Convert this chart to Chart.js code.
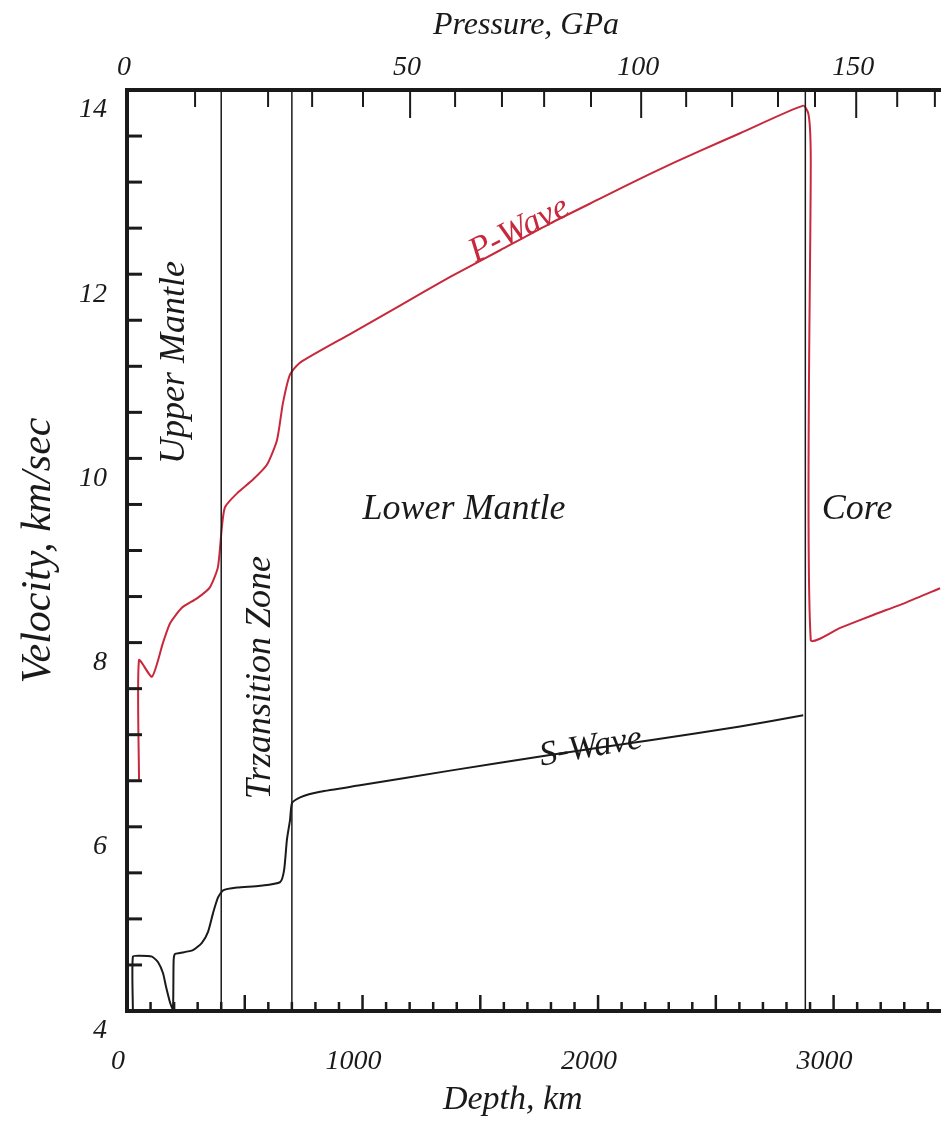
<!DOCTYPE html>
<html>
<head>
<meta charset="utf-8">
<title>Seismic velocity vs depth</title>
<script src="https://cdn.jsdelivr.net/npm/chart.js@4.4.1/dist/chart.umd.min.js"></script>
<style>
  html, body { margin: 0; padding: 0; background: #fff; overflow: hidden; }
  canvas { display: block; }
</style>
</head>
<body>
<canvas id="velocityChart" width="941" height="1128"></canvas>
<script>
/* ---- data ---- */

// P-wave velocity (km/s) against depth (km)
const pDepth = [51, 51, 106, 153, 183, 234, 297, 352, 386, 403, 416, 467, 535, 594, 637, 662, 692, 735,
                947, 1159, 1372, 1584, 1796, 2008, 2221, 2433, 2603, 2871, 2892, 2900, 2903, 2903,
                3028, 3168, 3312, 3452];
const pVel   = [6.51, 7.81, 7.63, 8.00, 8.21, 8.38, 8.48, 8.60, 8.82, 9.26, 9.47, 9.62, 9.77, 9.93, 10.20, 10.60, 10.91, 11.04,
                11.35, 11.66, 11.97, 12.26, 12.55, 12.82, 13.09, 13.34, 13.53, 13.83, 13.75, 13.57, 13.24, 8.03,
                8.16, 8.30, 8.44, 8.59];

// S-wave velocity (km/s) against depth (km)
const sDepth = [25, 25, 55, 106, 132, 153, 166, 183, 195, 198, 204, 225, 280, 318, 344, 365, 386, 408,
                467, 565, 650, 667, 679, 692, 701, 735, 820, 989, 1372, 1796, 2221, 2603, 2871];
const sVel   = [4.0, 4.59, 4.60, 4.59, 4.53, 4.41, 4.26, 4.09, 4.02, 4.55, 4.62, 4.63, 4.66, 4.74, 4.86, 5.06, 5.23, 5.31,
                5.34, 5.36, 5.40, 5.53, 5.86, 6.07, 6.26, 6.32, 6.38, 6.45, 6.61, 6.78, 6.94, 7.09, 7.21];

// layer boundaries (km)
const boundaryDepths = [400, 700, 2880];

// axes
const depthMin = 0, depthMax = 3456;
const velMin = 4, velMax = 14;
const depthTicks = [0, 100, 200, 300, 400, 500, 600, 700, 800, 900, 1000, 1100, 1200, 1300, 1400, 1500, 1600,
                    1700, 1800, 1900, 2000, 2100, 2200, 2300, 2400, 2500, 2600, 2700, 2800, 2900, 3000,
                    3100, 3200, 3300, 3400];
const depthLabels = ['0', '1000', '2000', '3000'];
const velTicks = [4, 4.5, 5, 5.5, 6, 6.5, 7, 7.5, 8, 8.5, 9, 9.5, 10, 10.5, 11, 11.5, 12, 12.5, 13, 13.5, 14];
const velLabels = ['4', '6', '8', '10', '12', '14'];

// pressure (GPa) scale on top, placed at the depth where each pressure is reached
const pressureValues = [0, 10, 20, 30, 40, 50, 60, 70, 80, 90, 100, 110, 120, 130, 140, 150, 160, 170];
const pressureDepths = [0, 289, 599, 786, 1002, 1202, 1393, 1592, 1771, 1970, 2183, 2374, 2569, 2764, 2921, 3096, 3270, 3430];
const pressureLabels = ['0', '50', '100', '150'];

// text annotations
const regionNames = ['Upper Mantle', 'Trzansition Zone', 'Lower Mantle', 'Core'];
const regionDepth = [200, 569, 1431, 3100];
const regionVel   = [11.04, 7.62, 9.44, 9.44];
const regionAngle = [-90, -90, 0, 0];

const waveNames = ['P-Wave', 'S-Wave'];
const waveDepth = [1665, 1970];
const waveVel   = [12.48, 6.86];
const waveAngle = [-27, -10];

/* ---- styling ---- */
const RED   = '#c8283c';
const INK   = '#1a1a1a';
const SERIF = '"Liberation Serif", "DejaVu Serif", serif';

const zip = (xs, ys) => xs.map((x, i) => ({ x: x, y: ys[i] }));

function line(ctx, x1, y1, x2, y2) {
  ctx.beginPath();
  ctx.moveTo(x1, y1);
  ctx.lineTo(x2, y2);
  ctx.stroke();
}

// tick marks point into the plot, like the original
const inwardTicks = {
  id: 'inwardTicks',
  afterDatasetsDraw(chart) {
    const { ctx, chartArea: a, scales } = chart;
    ctx.save();
    ctx.strokeStyle = INK;

    ctx.lineWidth = 3;
    scales.y.ticks.forEach(t => {
      const py = scales.y.getPixelForValue(t.value);
      line(ctx, a.left, py, a.left + 15, py);
    });

    ctx.lineWidth = 2.5;
    scales.x.ticks.forEach(t => {
      const px = scales.x.getPixelForValue(t.value);
      const len = t.value % 500 === 0 ? 16 : 9;
      line(ctx, px, a.bottom, px, a.bottom - len);
    });

    ctx.lineWidth = 2;
    scales.x2.ticks.forEach((t, i) => {
      const px = scales.x2.getPixelForValue(t.value);
      const len = pressureValues[i] % 50 === 0 ? 28 : 17;
      line(ctx, px, a.top, px, a.top + len);
    });
    ctx.restore();
  }
};

// region names and curve names
const annotations = {
  id: 'annotations',
  afterDatasetsDraw(chart) {
    const { ctx, scales: { x, y } } = chart;
    ctx.save();
    ctx.textAlign = 'center';
    ctx.textBaseline = 'middle';

    const put = (text, d, v, angle, color, size) => {
      ctx.save();
      ctx.translate(x.getPixelForValue(d), y.getPixelForValue(v));
      ctx.rotate(angle * Math.PI / 180);
      ctx.fillStyle = color;
      ctx.font = 'italic ' + size + 'px ' + SERIF;
      ctx.fillText(text, 0, 0);
      ctx.restore();
    };

    regionNames.forEach((n, i) => put(n, regionDepth[i], regionVel[i], regionAngle[i], INK, 36));
    put(waveNames[0], waveDepth[0], waveVel[0], waveAngle[0], RED, 35);
    put(waveNames[1], waveDepth[1], waveVel[1], waveAngle[1], INK, 35);
    ctx.restore();
  }
};

const boundarySets = boundaryDepths.map(d => ({
  data: [{ x: d, y: velMin }, { x: d, y: velMax }],
  borderColor: INK,
  borderWidth: 1.5,
  pointRadius: 0,
  tension: 0
}));

const tickFont = { family: SERIF, size: 28, style: 'italic' };
const titleFont = size => ({ family: SERIF, size: size, style: 'italic' });

new Chart(document.getElementById('velocityChart'), {
  type: 'line',
  data: {
    datasets: [
      ...boundarySets,
      {
        label: 'P-Wave',
        data: zip(pDepth, pVel),
        borderColor: RED,
        borderWidth: 2,
        pointRadius: 0,
        tension: 0.2
      },
      {
        label: 'S-Wave',
        data: zip(sDepth, sVel),
        borderColor: INK,
        borderWidth: 2,
        pointRadius: 0,
        tension: 0.2
      }
    ]
  },
  options: {
    responsive: false,
    animation: false,
    devicePixelRatio: 1,
    layout: { padding: 0 },
    plugins: {
      legend: { display: false },
      tooltip: { enabled: false }
    },
    scales: {
      x: {
        type: 'linear',
        position: 'bottom',
        min: depthMin,
        max: depthMax,
        grid: { display: false, drawTicks: false },
        border: { display: true, color: INK, width: 4 },
        afterBuildTicks: s => { s.ticks = depthTicks.map(v => ({ value: v })); },
        ticks: {
          autoSkip: false,
          maxRotation: 0,
          padding: 34,
          labelOffset: -9,
          color: INK,
          font: tickFont,
          callback: v => depthLabels.includes(String(v)) ? String(v) : ''
        },
        title: {
          display: true,
          // trailing spaces nudge the centred title left, as in the original
          text: 'Depth, km     ',
          color: INK,
          font: titleFont(34),
          padding: { top: 0, bottom: 8 }
        },
        afterFit: s => { s.height = 117; s.paddingLeft = 0; s.paddingRight = 0; }
      },
      x2: {
        type: 'linear',
        position: 'top',
        min: depthMin,
        max: depthMax,
        grid: { display: false, drawTicks: false },
        border: { display: true, color: INK, width: 4 },
        afterBuildTicks: s => { s.ticks = pressureDepths.map(v => ({ value: v })); },
        ticks: {
          autoSkip: false,
          maxRotation: 0,
          padding: 6,
          labelOffset: -3,
          color: INK,
          font: tickFont,
          callback: (v, i) => pressureLabels.includes(String(pressureValues[i])) ? String(pressureValues[i]) : ''
        },
        title: {
          display: true,
          text: 'Pressure, GPa  ',
          color: INK,
          font: titleFont(32),
          padding: { top: 6, bottom: 0 }
        },
        afterFit: s => { s.height = 90; s.paddingLeft = 0; s.paddingRight = 0; }
      },
      y: {
        type: 'linear',
        position: 'left',
        min: velMin,
        max: velMax,
        grid: { display: false, drawTicks: false },
        border: { display: true, color: INK, width: 4 },
        afterBuildTicks: s => { s.ticks = velTicks.map(v => ({ value: v })); },
        ticks: {
          autoSkip: false,
          padding: 20,
          labelOffset: 20,
          color: INK,
          font: tickFont,
          callback: v => velLabels.includes(String(v)) ? String(v) : ''
        },
        title: {
          display: true,
          text: 'Velocity, km/sec',
          color: INK,
          font: titleFont(42),
          padding: { top: 14, bottom: 0 }
        },
        afterFit: s => { s.width = 127; s.paddingTop = 0; s.paddingBottom = 0; }
      }
    }
  },
  plugins: [inwardTicks, annotations]
});
</script>
</body>
</html>
